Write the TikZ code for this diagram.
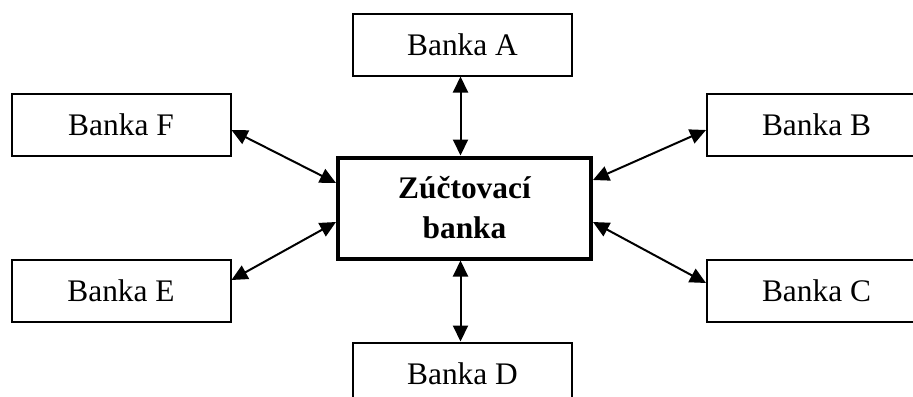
\documentclass[tikz,border=0pt]{standalone}
\usepackage{fontspec}
\setmainfont{Liberation Serif}
\usetikzlibrary{arrows.meta}
\begin{document}
\begin{tikzpicture}[x=0.5pt,y=-0.5pt,
  bank/.style={draw,line width=1pt,minimum width=109.5pt,minimum height=31pt,inner sep=0pt,font=\fontsize{15.7}{18}\selectfont},
  hub/.style={draw,line width=2pt,minimum width=126.5pt,minimum height=50.5pt,inner sep=0pt,align=center,font=\fontsize{15.7}{20}\selectfont\bfseries},
  link/.style={line width=1pt,{Triangle[length=8pt,width=7.5pt]}-{Triangle[length=8pt,width=7.5pt]}}]
\useasboundingbox (0,0) rectangle (913,396);
\clip (0,0) rectangle (913,396);
\node[hub] (Z) at (464.5,208) {Zúčtovací\\banka};
\node[bank] (A) at (462.5,44.5) {Banka A};
\node[bank] (D) at (462.5,373.5) {Banka D};
\node[bank] (F) at (121,125) {Banka F};
\node[bank] (E) at (121,291) {Banka E};
\node[bank] (B) at (816.5,125) {Banka B};
\node[bank] (C) at (816.5,291) {Banka C};
\coordinate (zt) at ([xshift=-2pt]Z.north);
\coordinate (zb) at ([xshift=-2pt]Z.south);
\draw[link] (A.south -| zt) -- (zt);
\draw[link] (zb) -- (D.north -| zb);
\draw[link] ([yshift=-2.5pt]F.east) -- ([yshift=12.5pt]Z.west);
\draw[link] ([yshift=-7pt]Z.west) -- ([yshift=5.5pt]E.east);
\draw[link] ([yshift=14pt]Z.east) -- ([yshift=-2.5pt]B.west);
\draw[link] ([yshift=-7pt]Z.east) -- ([yshift=4pt]C.west);
\end{tikzpicture}
\end{document}
